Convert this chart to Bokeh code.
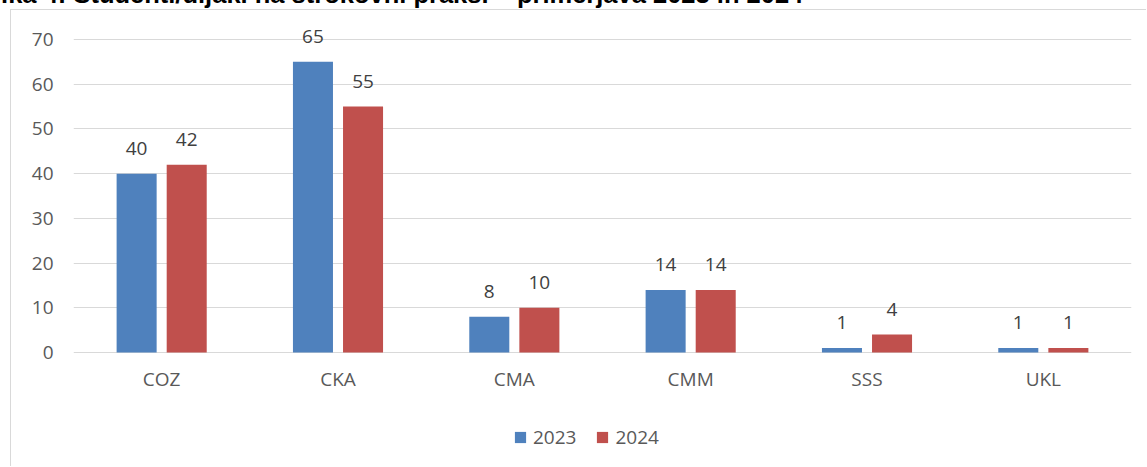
from bokeh.plotting import figure
from bokeh.models import ColumnDataSource, FactorRange, Range1d, FixedTicker, Legend, LegendItem, Div, LabelSet
from bokeh.transform import dodge
from bokeh.layouts import column
from bokeh.core.properties import value
from bokeh.embed import file_html
from bokeh.resources import INLINE

title_text = "Slika 4: Študenti/dijaki na strokovni praksi – primerjava 2023 in 2024"
categories = ["COZ", "CKA", "CMA", "CMM", "SSS", "UKL"]
years = ["2023", "2024"]
v2023 = [40, 65, 8, 14, 1, 1]
v2024 = [42, 55, 10, 14, 4, 1]
y_ticks = [0, 10, 20, 30, 40, 50, 60, 70]

BLUE = "#4F81BD"
RED = "#C0504D"
GRID = "#D9D9D9"
FONT = "Open Sans"

source = ColumnDataSource(dict(
    cat=categories,
    v2023=v2023,
    v2024=v2024,
    l2023=[str(v) for v in v2023],
    l2024=[str(v) for v in v2024],
))

# frame extends above 70 and below 0 so that labels and legend are not clipped
p = figure(
    x_range=FactorRange(factors=categories, range_padding=0),
    y_range=Range1d(-23.04, 76.04),
    width=1136, height=457,
    output_backend="svg", toolbar_location=None,
    min_border_left=62, min_border_right=16, min_border_top=2, min_border_bottom=12,
)
p.margin = (0, 0, 0, 10)
p.styles = {"border-top": "1px solid #D9D9D9", "border-left": "1px solid #D9D9D9"}
p.outline_line_color = None
p.background_fill_color = "white"
p.border_fill_color = "white"

r1 = p.vbar(x=dodge("cat", -0.142, range=p.x_range), top="v2023", width=0.227,
            source=source, fill_color=BLUE, line_color=None)
r2 = p.vbar(x=dodge("cat", 0.142, range=p.x_range), top="v2024", width=0.227,
            source=source, fill_color=RED, line_color=None)

for off, ycol, tcol in ((-0.142, "v2023", "l2023"), (0.142, "v2024", "l2024")):
    p.add_layout(LabelSet(
        x=dodge("cat", off, range=p.x_range), y=ycol, text=tcol, source=source,
        text_align="center", text_baseline="alphabetic", y_offset=19,
        text_font=value(FONT), text_font_size=value("19px"), text_color="#404040"))

# category labels under the baseline
p.add_layout(LabelSet(
    x="cat", y=0, text="cat", source=source,
    text_align="center", text_baseline="alphabetic", y_offset=-34,
    text_font=value(FONT), text_font_size=value("19px"), text_color="#595959"))

# axes
p.xaxis.visible = False
p.yaxis.ticker = FixedTicker(ticks=y_ticks)
p.yaxis.axis_line_color = None
p.yaxis.major_tick_line_color = None
p.yaxis.minor_tick_line_color = None
p.yaxis.major_tick_out = 0
p.yaxis.major_label_standoff = 20
p.yaxis.major_label_text_font = FONT
p.yaxis.major_label_text_font_size = "19px"
p.yaxis.major_label_text_color = "#595959"

p.xgrid.grid_line_color = None
p.ygrid.ticker = FixedTicker(ticks=y_ticks)
p.ygrid.grid_line_color = GRID
p.ygrid.grid_line_width = 1

legend = Legend(
    items=[LegendItem(label=years[0], renderers=[r1]), LegendItem(label=years[1], renderers=[r2])],
    orientation="horizontal", location=(440, 5), margin=0,
    glyph_width=14, glyph_height=14, label_standoff=6, spacing=19, padding=0,
    border_line_color=None, background_fill_alpha=0,
    label_text_font=FONT, label_text_font_size="19px", label_text_color="#595959",
)
p.add_layout(legend, "center")

title_div = Div(
    text=('<div style="position:absolute; left:-23px; top:-18px; white-space:nowrap; '
          "font-family:'Liberation Sans'; font-weight:bold; font-size:25.5px; line-height:25.5px; "
          'color:#000;">' + title_text + "</div>"),
    width=1137, height=9, margin=0,
    styles={"overflow": "visible"},
)

layout = column(title_div, p, spacing=0)
open("out.html", "w").write(file_html(layout, INLINE))
